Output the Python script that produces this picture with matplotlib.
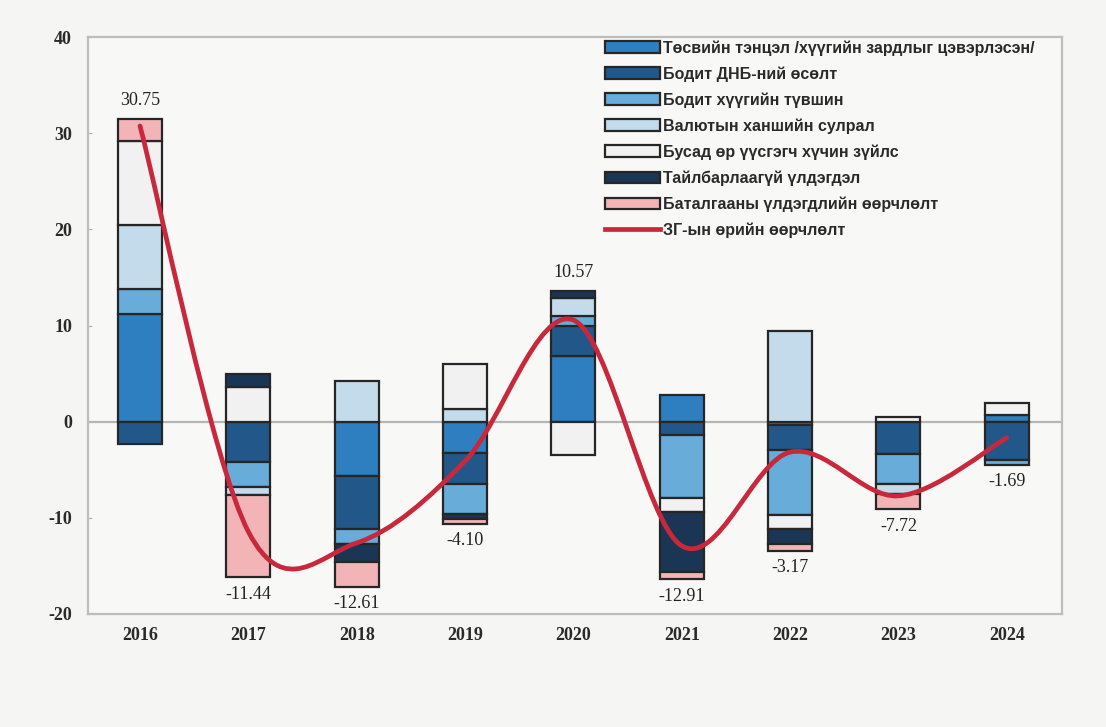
import numpy as np
import matplotlib
matplotlib.use("Agg")
import matplotlib.pyplot as plt
from matplotlib.path import Path
from matplotlib.patches import PathPatch, Patch
from matplotlib.lines import Line2D

plt.rcParams["axes.unicode_minus"] = False

years = ["2016", "2017", "2018", "2019", "2020", "2021", "2022", "2023", "2024"]

series_names = [
    "Төсвийн тэнцэл /хүүгийн зардлыг цэвэрлэсэн/",
    "Бодит ДНБ-ний өсөлт",
    "Бодит хүүгийн түвшин",
    "Валютын ханшийн сулрал",
    "Бусад өр үүсгэгч хүчин зүйлс",
    "Тайлбарлаагүй үлдэгдэл",
    "Баталгааны үлдэгдлийн өөрчлөлт",
]
line_name = "ЗГ-ын өрийн өөрчлөлт"

budget_balance = [11.2, 0.0, -5.7, -3.3, 6.8, 2.8, -0.3, 0.0, 0.7]
real_gdp_growth = [-2.3, -4.2, -5.5, -3.2, 3.1, -1.4, -2.6, -3.4, -4.0]
real_interest = [2.6, -2.6, -1.5, -3.1, 1.1, -6.5, -6.8, -3.1, -0.5]
fx_depreciation = [6.7, -0.8, 4.2, 1.3, 1.9, 0.0, 9.4, -1.0, 0.0]
other_factors = [8.7, 3.6, 0.0, 4.7, -3.5, -1.5, -1.5, 0.5, 1.2]
unexplained = [0.0, 1.4, -1.9, -0.5, 0.7, -6.2, -1.5, 0.0, 0.0]
guarantee_change = [2.3, -8.6, -2.6, -0.5, 0.0, -0.8, -0.7, -1.6, 0.0]

debt_change = [30.75, -11.44, -12.61, -4.10, 10.57, -12.91, -3.17, -7.72, -1.69]
debt_labels = ["30.75", "-11.44", "-12.61", "-4.10", "10.57", "-12.91", "-3.17", "-7.72", "-1.69"]

components = [budget_balance, real_gdp_growth, real_interest, fx_depreciation,
              other_factors, unexplained, guarantee_change]
colors = ["#2d7fbf", "#225889", "#68acda", "#c4dbec", "#f1f1f1", "#1b3554", "#f2b4b6"]
line_color = "#c8283c"
edge = "#262626"

serif = ["Liberation Serif", "DejaVu Serif"]
legend_font = ["Liberation Sans Narrow", "Liberation Sans", "DejaVu Sans"]

fig = plt.figure(figsize=(11.06, 7.27), dpi=100)
fig.patch.set_facecolor("#f5f5f3")
ax = fig.add_axes([88 / 1106, 1 - 614 / 727, (1062 - 88) / 1106, (614 - 37) / 727])
ax.set_facecolor("#f8f8f7")

x = np.arange(len(years))
width = 0.405
pos_base = np.zeros(len(years))
neg_base = np.zeros(len(years))
for vals, col in zip(components, colors):
    v = np.array(vals, dtype=float)
    pos = np.where(v > 0, v, 0)
    neg = np.where(v < 0, v, 0)
    mp = pos > 0
    mn = neg < 0
    ax.bar(x[mp], pos[mp], width, bottom=pos_base[mp], color=col, edgecolor=edge,
           linewidth=1.6, zorder=3)
    ax.bar(x[mn], neg[mn], width, bottom=neg_base[mn], color=col, edgecolor=edge,
           linewidth=1.6, zorder=3)
    pos_base += pos
    neg_base += neg

# zero line
ax.axhline(0, color="#b5b5b5", linewidth=1.6, zorder=2)

# smoothed line (Catmull-Rom -> cubic Bezier, like spreadsheet smoothing)
pts = np.column_stack([x.astype(float), np.array(debt_change)])
verts = [tuple(pts[0])]
codes = [Path.MOVETO]
n = len(pts)
for i in range(n - 1):
    p0 = pts[i - 1] if i > 0 else pts[i]
    p1 = pts[i]
    p2 = pts[i + 1]
    p3 = pts[i + 2] if i + 2 < n else pts[i + 1]
    c1 = p1 + (p2 - p0) / 6.0
    c2 = p2 - (p3 - p1) / 6.0
    verts += [tuple(c1), tuple(c2), tuple(p2)]
    codes += [Path.CURVE4] * 3
ax.add_patch(PathPatch(Path(verts, codes), facecolor="none", edgecolor=line_color,
                       linewidth=3.4, zorder=5, capstyle="round", joinstyle="round"))

# data labels
for i, (val, lab) in enumerate(zip(debt_change, debt_labels)):
    if val >= 0:
        ax.annotate(lab, (x[i], pos_base[i]), xytext=(0, 7), textcoords="offset points",
                    ha="center", va="bottom", fontsize=13, family=serif, color="#222222",
                    zorder=6)
    else:
        ax.annotate(lab, (x[i], neg_base[i]), xytext=(0, -6), textcoords="offset points",
                    ha="center", va="top", fontsize=13, family=serif, color="#222222",
                    zorder=6)

ax.set_xlim(-0.48, 8.51)
ax.set_ylim(-20, 40)
ax.set_yticks(np.arange(-20, 41, 10))
ax.set_xticks(x)
ax.set_xticklabels(years)
for lab in ax.get_xticklabels() + ax.get_yticklabels():
    lab.set_family(serif)
    lab.set_fontsize(13)
    lab.set_fontweight("bold")
    lab.set_color("#2a2a2a")
ax.tick_params(axis="x", length=0, pad=9.5)
ax.tick_params(axis="y", direction="in", length=3, color="#b0b0b0", pad=11.5)
for s in ax.spines.values():
    s.set_color("#bdbdbd")
    s.set_linewidth(1.6)

handles = [Patch(facecolor=c, edgecolor=edge, linewidth=1.6) for c in colors]
handles.append(Line2D([0], [0], color=line_color, linewidth=3.4))
leg = ax.legend(handles, series_names + [line_name], loc="upper left",
                bbox_to_anchor=((605 - 88) / 974, 1.0 - 3 / 577), frameon=False,
                prop={"family": legend_font, "size": 11.5, "weight": "bold"},
                handlelength=3.45, handleheight=0.7, labelspacing=0.66,
                handletextpad=0.2, borderaxespad=0.0, borderpad=0.0)
for t in leg.get_texts():
    t.set_color("#2a2a2a")

fig.savefig("out.png", dpi=100, facecolor=fig.get_facecolor())
